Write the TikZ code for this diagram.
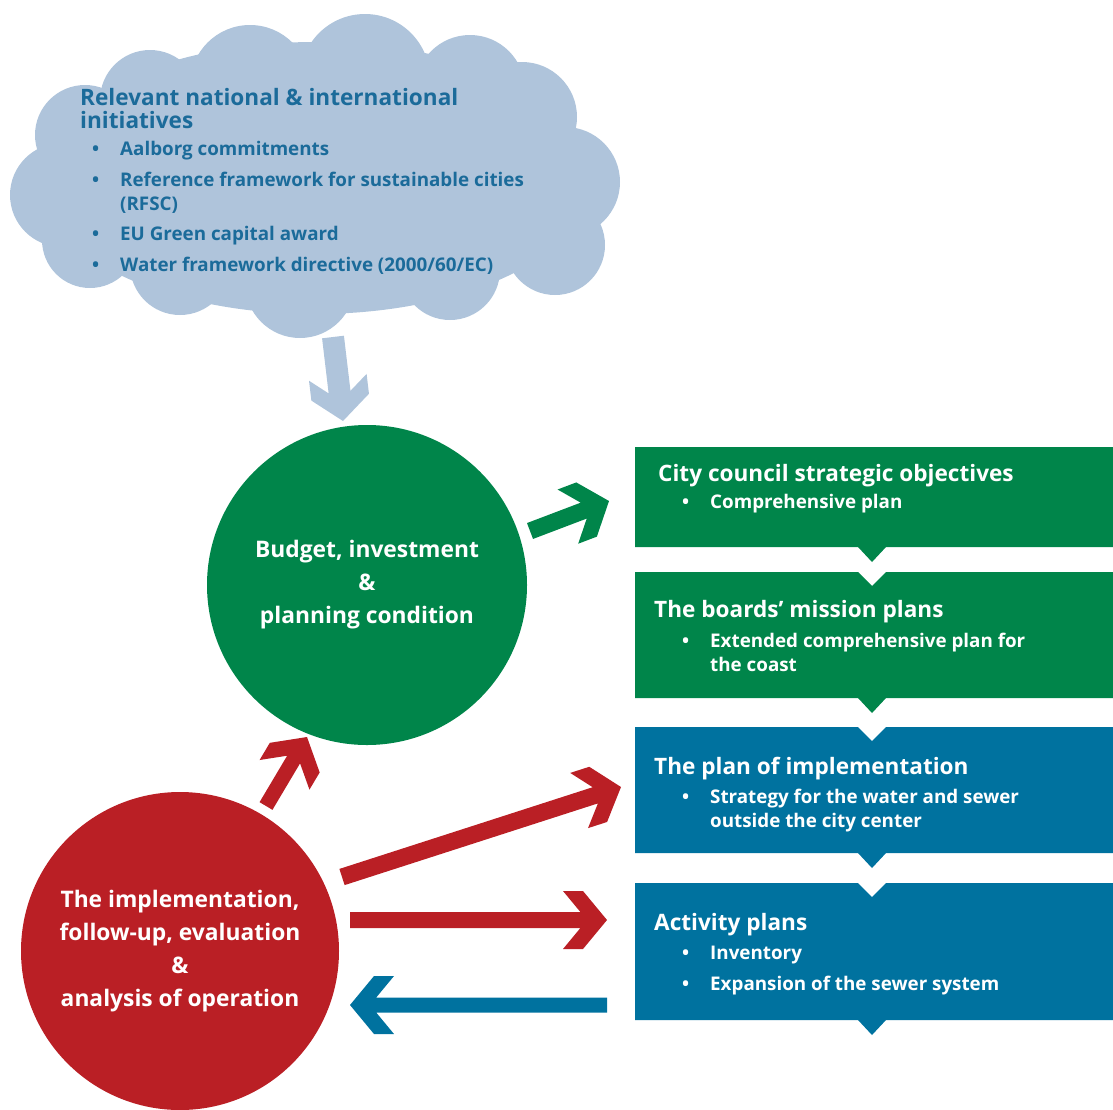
\documentclass[tikz,border=0pt]{standalone}
\usepackage{fontspec}
\setmainfont{Open Sans}
\definecolor{cloudc}{HTML}{AFC4DB}
\definecolor{cloudt}{HTML}{1B6B9A}
\definecolor{grn}{HTML}{00854A}
\definecolor{rd}{HTML}{BA1F25}
\definecolor{blu}{HTML}{00729F}
% fat arrow: colour, from coordinate, tip coordinate, half shaft width
\newcommand\fatarrow[4]{%
  \pgfmathanglebetweenpoints{\pgfpointanchor{#2}{center}}{\pgfpointanchor{#3}{center}}%
  \edef\fatang{\pgfmathresult}%
  \pgfpointdiff{\pgfpointanchor{#2}{center}}{\pgfpointanchor{#3}{center}}%
  \pgfgetlastxy{\fatdx}{\fatdy}%
  \pgfmathsetmacro\fatlen{veclen(\fatdx,\fatdy)}%
  \pgfmathsetmacro\fatin{-44+24*(29-#4)/29}%
  \fill[#1, shift={(#3)}, rotate=\fatang]
    (0,0) -- (-24,-29) -- (-44,-29) -- (\fatin,-#4) -- (-\fatlen,-#4)
    -- (-\fatlen,#4) -- (\fatin,#4) -- (-44,29) -- (-24,29) -- cycle;
}
\begin{document}
\begin{tikzpicture}[x=1pt,y=-1pt,
  cloudtitle/.style={anchor=base west, text=cloudt, inner sep=0, font=\bfseries\fontsize{22.6}{24}\selectfont},
  cloudbul/.style={anchor=base west, text=cloudt, inner sep=0, font=\bfseries\fontsize{18.8}{20}\selectfont},
  boxtitle/.style={anchor=base west, text=white, inner sep=0, font=\bfseries\fontsize{22.6}{24}\selectfont},
  boxbul/.style={anchor=base west, text=white, inner sep=0, font=\bfseries\fontsize{18.8}{20}\selectfont},
  circtext/.style={text=white, align=center, inner sep=0, font=\bfseries\fontsize{22.8}{33}\selectfont},
  flowbox/.style={fill=#1},
  puff/.style={fill=cloudc},
]
\useasboundingbox (0,0) rectangle (1113,1109);

% cloud (union of puffs)
\coordinate (cloud) at (315,178);
\fill[puff] (cloud) ellipse [x radius=278, y radius=136];
\foreach \cx/\cy/\r in {150/100/50, 250/85/60, 365/79/65, 470/90/55, 522/117/55,
   565/182/55, 555/245/50, 450/270/50, 300/283/55, 180/265/50, 90/240/48,
   62/195/52, 85/135/50}
  \fill[puff] (\cx,\cy) circle [radius=\r];

% cloud arrow
\coordinate (ca0) at (333,337); \coordinate (ca1) at (343,421);
\fatarrow{cloudc}{ca0}{ca1}{11}

% circles
\node[circle, fill=grn, minimum size=320pt, circtext] (budget) at (367,585)
  {Budget, investment\\ \&\\ planning condition};
\node[circle, fill=rd, minimum size=318pt, circtext] (impl) at (180,951)
  {The implementation,\\ follow-up, evaluation\\ \&\\ analysis of operation};

% boxes
\fill[flowbox=grn] (635,447) -- (1113,447) -- (1113,547) -- (886,547) -- (872,562) -- (858,547) -- (635,547) -- cycle;
\fill[flowbox=grn] (635,572) -- (858,572) -- (872,586) -- (886,572) -- (1113,572) -- (1113,698) -- (886,698) -- (872,713) -- (858,698) -- (635,698) -- cycle;
\fill[flowbox=blu] (635,727) -- (858,727) -- (872,741) -- (886,727) -- (1113,727) -- (1113,853) -- (886,853) -- (872,868) -- (858,853) -- (635,853) -- cycle;
\fill[flowbox=blu] (635,883) -- (858,883) -- (872,897) -- (886,883) -- (1113,883) -- (1113,1020) -- (886,1020) -- (872,1035) -- (858,1020) -- (635,1020) -- cycle;

% arrows
\coordinate (ga0) at (530,531); \coordinate (ga1) at (609,501);
\fatarrow{grn}{ga0}{ga1}{8.5}
\coordinate (ua0) at (266,806); \coordinate (ua1) at (307,737);
\fatarrow{rd}{ua0}{ua1}{7.5}
\coordinate (da0) at (342,877); \coordinate (da1) at (621,787);
\fatarrow{rd}{da0}{da1}{8.5}
\coordinate (ha0) at (350,920); \coordinate (ha1) at (607,920);
\fatarrow{rd}{ha0}{ha1}{8}
\coordinate (ba0) at (607,1005); \coordinate (ba1) at (350,1005);
\fatarrow{blu}{ba0}{ba1}{7.5}

% cloud text
\node[cloudtitle] (ct1) at (80,105) {Relevant national \& international};
\node[cloudtitle] (ct2) at (80,128) {initiatives};
\node[cloudbul] (cb1d) at (92,155) {•}; \node[cloudbul] (cb1) at (120,155) {Aalborg commitments};
\node[cloudbul] (cb2d) at (92,186) {•}; \node[cloudbul] (cb2) at (120,186) {Reference framework for sustainable cities};
\node[cloudbul] (cb2b) at (120,210) {(RFSC)};
\node[cloudbul] (cb3d) at (92,240) {•}; \node[cloudbul] (cb3) at (120,240) {EU Green capital award};
\node[cloudbul] (cb4d) at (92,271) {•}; \node[cloudbul] (cb4) at (120,271) {Water framework directive (2000/60/EC)};

% box texts
\node[boxtitle] (b1t) at (658,481) {City council strategic objectives};
\node[boxbul] (b1d) at (682,508) {•}; \node[boxbul] (b1b) at (710,508) {Comprehensive plan};

\node[boxtitle] (b2t) at (654,617) {The boards’ mission plans};
\node[boxbul] (b2d) at (682,647) {•}; \node[boxbul] (b2b) at (710,647) {Extended comprehensive plan for};
\node[boxbul] (b2c) at (710,671) {the coast};

\node[boxtitle] (b3t) at (654,774) {The plan of implementation};
\node[boxbul] (b3d) at (682,803) {•}; \node[boxbul] (b3b) at (710,803) {Strategy for the water and sewer};
\node[boxbul] (b3c) at (710,827) {outside the city center};

\node[boxtitle] (b4t) at (654,930) {Activity plans};
\node[boxbul] (b4d) at (682,959) {•}; \node[boxbul] (b4b) at (710,959) {Inventory};
\node[boxbul] (b4e) at (682,990) {•}; \node[boxbul] (b4c) at (710,990) {Expansion of the sewer system};
\end{tikzpicture}
\end{document}
